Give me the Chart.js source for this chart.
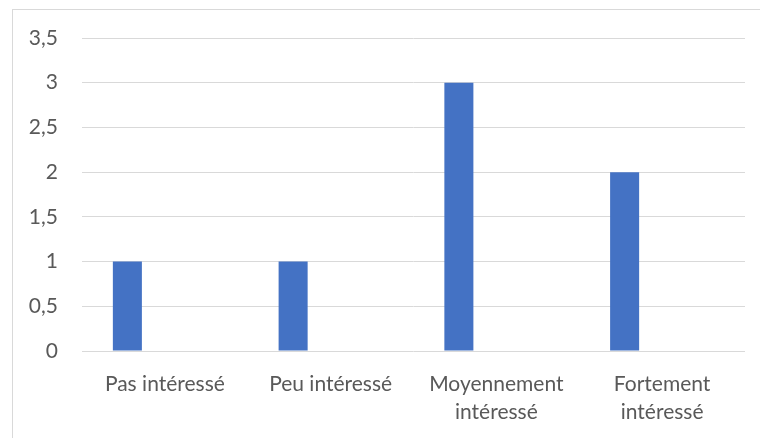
<!DOCTYPE html>
<html lang="fr">
<head>
  <meta charset="UTF-8">
  <title>Intérêt</title>
  <style>
    body { margin: 0; background: #ffffff; }
    #frame {
      position: absolute;
      left: 12px;
      top: 9px;
      width: 800px;
      height: 500px;
      border: 1px solid #d9d9d9;
    }
    #wrap {
      position: absolute;
      left: 0;
      top: 0;
      width: 760px;
      height: 438px;
    }
  </style>
</head>
<body>
  <div id="frame"></div>
  <div id="wrap"><canvas id="myChart"></canvas></div>

  <script src="https://cdn.jsdelivr.net/npm/chart.js"></script>
  <script>
const categories = [
  'Pas intéressé',
  'Peu intéressé',
  ['Moyennement', 'intéressé'],
  ['Fortement', 'intéressé']
];
const seriesValues = [1, 1, 3, 2];
const emptySeries = [null, null, null, null];
const yTicks = [0, 0.5, 1, 1.5, 2, 2.5, 3, 3.5];

const textColor = '#595959';
const gridColor = '#d9d9d9';

const ctx = document.getElementById('myChart').getContext('2d');

new Chart(ctx, {
  type: 'bar',
  data: {
    labels: categories,
    datasets: [
      {
        data: seriesValues,
        backgroundColor: '#4472c4',
        borderWidth: 0,
        categoryPercentage: 0.905,
        barPercentage: 0.387
      },
      {
        data: emptySeries,
        backgroundColor: '#ed7d31',
        borderWidth: 0,
        categoryPercentage: 0.905,
        barPercentage: 0.387
      }
    ]
  },
  options: {
    responsive: true,
    maintainAspectRatio: false,
    animation: false,
    layout: {
      padding: { top: 38, right: 15, left: 0, bottom: 0 }
    },
    plugins: {
      legend: { display: false },
      tooltip: { enabled: false }
    },
    scales: {
      x: {
        grid: { display: false },
        border: { display: false },
        ticks: {
          color: textColor,
          font: { family: 'Lato', size: 21, lineHeight: 1.35 },
          maxRotation: 0,
          padding: 11
        },
        afterFit: function(scale) {
          scale.height = 87;
        }
      },
      y: {
        min: 0,
        max: 3.5,
        afterBuildTicks: function(scale) {
          scale.ticks = yTicks.map(v => ({ value: v }));
        },
        grid: {
          color: gridColor,
          lineWidth: 1,
          drawTicks: false
        },
        border: { display: false },
        ticks: {
          color: textColor,
          font: { family: 'Lato', size: 21 },
          padding: 24,
          callback: function(value) {
            return String(value).replace('.', ',');
          }
        },
        afterFit: function(scale) {
          scale.width = 82;
        }
      }
    }
  }
});
  </script>
</body>
</html>
